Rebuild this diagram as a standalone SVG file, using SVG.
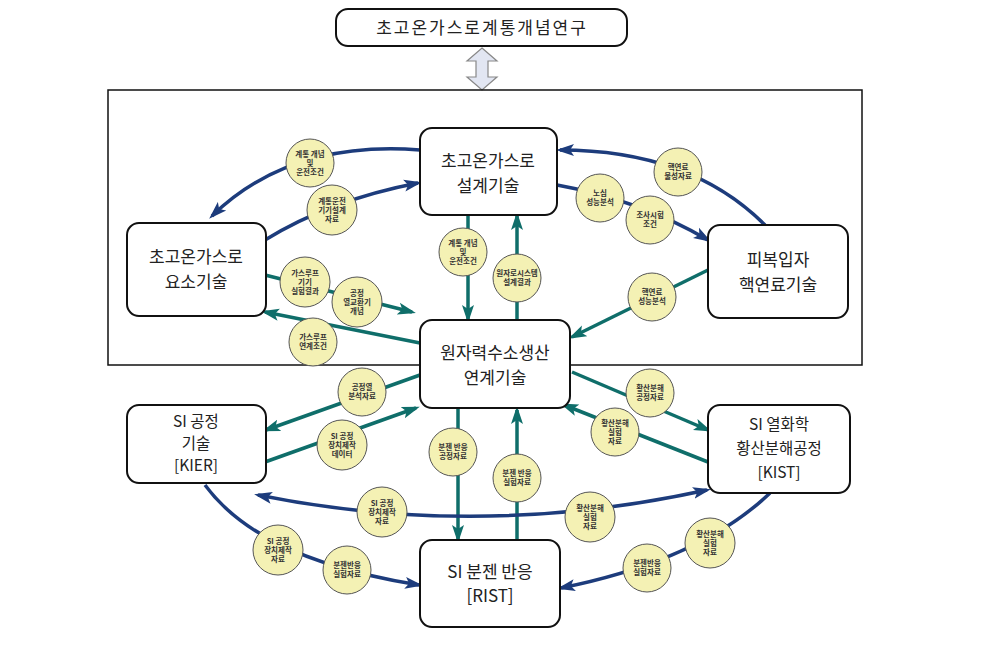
<svg xmlns="http://www.w3.org/2000/svg" width="1000" height="646" viewBox="0 0 1000 646">
<style>
.node rect{fill:#fff;stroke:#111;stroke-width:2}
.nt{font-family:"Noto Sans CJK KR","Noto Sans",sans-serif;font-size:17px;fill:#222;text-anchor:middle}
.ns{font-size:15.5px}
.bl{fill:none;stroke:#1d3c7c;stroke-width:3.5}
.tl{fill:none;stroke:#0f6e6a;stroke-width:3.5}
.lab circle{fill:#f4f1b4;stroke:#555;stroke-width:1}
.lab text{font-family:"Noto Sans CJK KR",sans-serif;font-size:7.5px;font-weight:bold;fill:#333;text-anchor:middle}
</style>
<defs>
<marker id="ab" markerUnits="userSpaceOnUse" markerWidth="18" markerHeight="14" refX="14" refY="7" orient="auto-start-reverse"><path d="M0,1 L18,7 L0,13 L4,7 z" fill="#1d3c7c"/></marker>
<marker id="at" markerUnits="userSpaceOnUse" markerWidth="18" markerHeight="14" refX="14" refY="7" orient="auto-start-reverse"><path d="M0,1 L18,7 L0,13 L4,7 z" fill="#0f6e6a"/></marker>
</defs>
<rect width="1000" height="646" fill="#fff"/>
<g id="title"><rect x="336" y="9" width="291" height="37" rx="12" fill="#fff" stroke="#111" stroke-width="2"/>
<text class="nt" x="482" y="34" letter-spacing="2">초고온가스로계통개념연구</text></g>
<polygon points="482,48 497,61 488,61 488,77 497,77 482,90 467,77 476,77 476,61 467,61" fill="#e2e6f2" stroke="#888" stroke-width="1.2"/>
<rect id="frame" x="108" y="90" width="754" height="275" fill="none" stroke="#111" stroke-width="1.5"/>
<g id="connectors">
<path class="bl" d="M420,150 Q290,140 212,216" marker-end="url(#ab)"/>
<path class="bl" d="M265,240 Q330,200 418,183" marker-end="url(#ab)"/>
<path class="bl" d="M765,225 Q690,150 560,150" marker-end="url(#ab)"/>
<path class="bl" d="M557,185 Q640,200 708,240" marker-end="url(#ab)"/>
<path class="tl" d="M420,343 L265,312" marker-end="url(#at)"/>
<path class="tl" d="M265,275 L412,312" marker-end="url(#at)"/>
<path class="tl" d="M708,270 L572,337" marker-end="url(#at)"/>
<path class="tl" d="M468,215 L468,319" marker-end="url(#at)"/>
<path class="tl" d="M517,320 L517,216" marker-end="url(#at)"/>
<path class="tl" d="M420,375 L266,430" marker-end="url(#at)"/>
<path class="tl" d="M265,462 L416,408" marker-end="url(#at)"/>
<path class="tl" d="M572,372 L708,430" marker-end="url(#at)"/>
<path class="tl" d="M708,462 L564,405" marker-end="url(#at)"/>
<path class="tl" d="M458,408 L458,539" marker-end="url(#at)"/>
<path class="tl" d="M517,540 L517,410" marker-end="url(#at)"/>
<path class="bl" d="M707,490 Q480,540 258,495" marker-start="url(#ab)" marker-end="url(#ab)"/>
<path class="bl" d="M205,485 Q260,560 419,585" marker-end="url(#ab)"/>
<path class="bl" d="M770,493 Q700,560 561,588" marker-end="url(#ab)"/>
</g>
<g id="n_design" class="node"><rect x="420" y="128" width="137" height="87" rx="12"/><text class="nt" x="488" y="167">초고온가스로</text><text class="nt" x="488" y="192">설계기술</text></g>
<g id="n_element" class="node"><rect x="127" y="223" width="139" height="93" rx="12"/><text class="nt" x="196" y="263">초고온가스로</text><text class="nt" x="196" y="288">요소기술</text></g>
<g id="n_fuel" class="node"><rect x="708" y="225" width="140" height="93" rx="12"/><text class="nt" x="778" y="266">피복입자</text><text class="nt" x="778" y="291">핵연료기술</text></g>
<g id="n_center" class="node"><rect x="420" y="320" width="150" height="88" rx="12"/><text class="nt" x="495" y="359">원자력수소생산</text><text class="nt" x="495" y="384">연계기술</text></g>
<g id="n_si" class="node"><rect x="127" y="405" width="139" height="78" rx="12"/><text class="nt ns" x="196" y="427">SI 공정</text><text class="nt ns" x="196" y="449">기술</text><text class="nt ns" x="196" y="471">[KIER]</text></g>
<g id="n_kist" class="node"><rect x="708" y="405" width="142" height="88" rx="12"/><text class="nt ns" x="779" y="430">SI 열화학</text><text class="nt ns" x="779" y="454">황산분해공정</text><text class="nt ns" x="779" y="478">[KIST]</text></g>
<g id="n_rist" class="node"><rect x="420" y="540" width="140" height="87" rx="12"/><text class="nt" x="490" y="578">SI 분젠 반응</text><text class="nt" x="490" y="602">[RIST]</text></g>
<g id="labels">
<g class="lab"><circle cx="310" cy="163" r="24"/><text x="310" y="157">계통 개념</text><text x="310" y="166">및</text><text x="310" y="175">운전조건</text></g>
<g class="lab"><circle cx="332" cy="210" r="25"/><text x="332" y="204">계통운전</text><text x="332" y="213">기기설계</text><text x="332" y="222">자료</text></g>
<g class="lab"><circle cx="678" cy="172" r="24"/><text x="678" y="170">핵연료</text><text x="678" y="179">물성자료</text></g>
<g class="lab"><circle cx="600" cy="198" r="24"/><text x="600" y="196">노심</text><text x="600" y="205">성능분석</text></g>
<g class="lab"><circle cx="650" cy="220" r="24"/><text x="650" y="218">조사시험</text><text x="650" y="227">조건</text></g>
<g class="lab"><circle cx="305" cy="282" r="25"/><text x="305" y="276">가스루프</text><text x="305" y="285">기기</text><text x="305" y="294">실험결과</text></g>
<g class="lab"><circle cx="357" cy="302" r="25"/><text x="357" y="296">공정</text><text x="357" y="305">열교환기</text><text x="357" y="314">개념</text></g>
<g class="lab"><circle cx="313" cy="342" r="24"/><text x="313" y="340">가스루프</text><text x="313" y="349">연계조건</text></g>
<g class="lab"><circle cx="463" cy="252" r="24"/><text x="463" y="246">계통 개념</text><text x="463" y="255">및</text><text x="463" y="264">운전조건</text></g>
<g class="lab"><circle cx="517" cy="278" r="24"/><text x="517" y="276">원자로시스템</text><text x="517" y="285">설계결과</text></g>
<g class="lab"><circle cx="652" cy="297" r="24"/><text x="652" y="295">핵연료</text><text x="652" y="304">성능분석</text></g>
<g class="lab"><circle cx="362" cy="392" r="24"/><text x="362" y="390">공정열</text><text x="362" y="399">분석자료</text></g>
<g class="lab"><circle cx="342" cy="445" r="25"/><text x="342" y="439">SI 공정</text><text x="342" y="448">장치제작</text><text x="342" y="457">데이터</text></g>
<g class="lab"><circle cx="650" cy="393" r="24"/><text x="650" y="391">황산분해</text><text x="650" y="400">공정자료</text></g>
<g class="lab"><circle cx="615" cy="432" r="24"/><text x="615" y="426">황산분해</text><text x="615" y="435">실험</text><text x="615" y="444">자료</text></g>
<g class="lab"><circle cx="453" cy="452" r="24"/><text x="453" y="450">분젠 반응</text><text x="453" y="459">공정자료</text></g>
<g class="lab"><circle cx="517" cy="478" r="24"/><text x="517" y="476">분젠 반응</text><text x="517" y="485">실험자료</text></g>
<g class="lab"><circle cx="382" cy="512" r="25"/><text x="382" y="506">SI 공정</text><text x="382" y="515">장치제작</text><text x="382" y="524">자료</text></g>
<g class="lab"><circle cx="278" cy="550" r="25"/><text x="278" y="544">SI 공정</text><text x="278" y="553">장치제작</text><text x="278" y="562">자료</text></g>
<g class="lab"><circle cx="347" cy="570" r="24"/><text x="347" y="568">분젠반응</text><text x="347" y="577">실험자료</text></g>
<g class="lab"><circle cx="590" cy="517" r="25"/><text x="590" y="511">황산분해</text><text x="590" y="520">실험</text><text x="590" y="529">자료</text></g>
<g class="lab"><circle cx="647" cy="568" r="24"/><text x="647" y="566">분젠반응</text><text x="647" y="575">실험자료</text></g>
<g class="lab"><circle cx="710" cy="543" r="25"/><text x="710" y="537">황산분해</text><text x="710" y="546">실험</text><text x="710" y="555">자료</text></g>
</g>
</svg>
